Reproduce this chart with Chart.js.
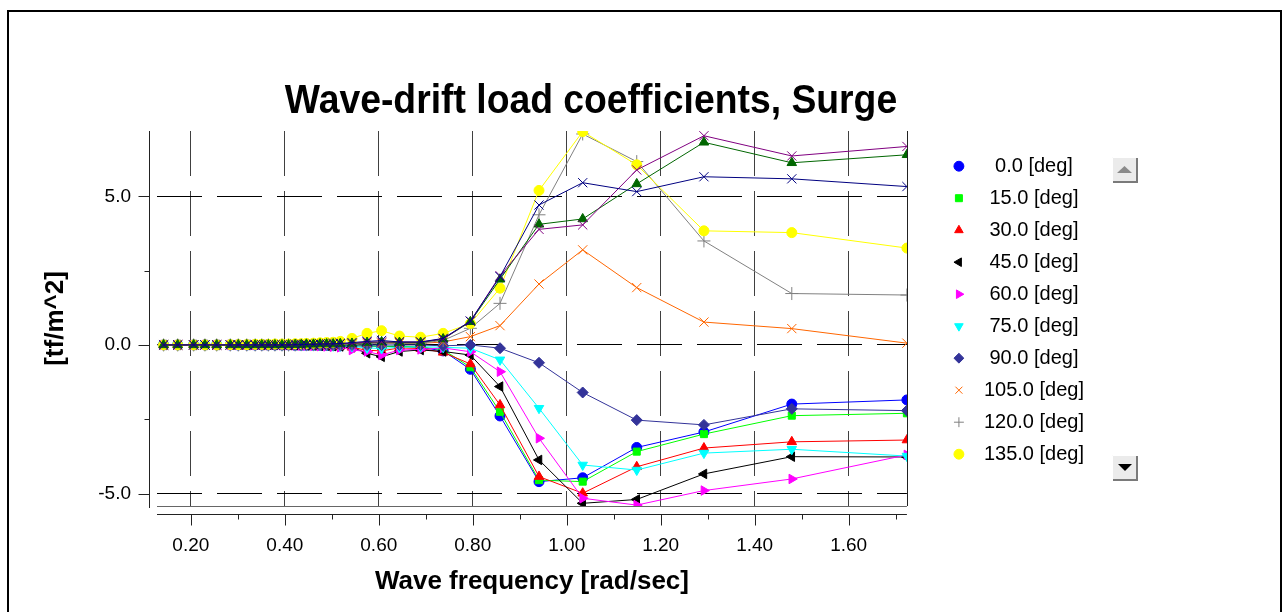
<!DOCTYPE html>
<html>
<head>
<meta charset="utf-8">
<script src="https://cdn.jsdelivr.net/npm/chart.js@4.4.1/dist/chart.umd.min.js"></script>
<style>
  html, body { margin: 0; padding: 0; background: #fff; }
  #frame { position: absolute; left: 7px; top: 10px; width: 1275px; height: 700px; border: 2px solid #000; box-sizing: border-box; }
  #chart { position: absolute; left: 0; top: 0; }
</style>
</head>
<body>
<div id="frame"></div>
<canvas id="chart" width="1286" height="612"></canvas>
<script>
const chartTitle = "Wave-drift load coefficients, Surge";

const freq = [0.142, 0.172, 0.206, 0.230, 0.255, 0.284, 0.301, 0.319, 0.337, 0.351, 0.365, 0.379,
  0.394, 0.408, 0.422, 0.435, 0.446, 0.461, 0.475, 0.489, 0.503, 0.518, 0.543, 0.575,
  0.606, 0.644, 0.689, 0.737, 0.795, 0.858, 0.941, 1.034, 1.149, 1.292, 1.479, 1.724];

const headings = ["0.0", "15.0", "30.0", "45.0", "60.0", "75.0", "90.0", "105.0", "120.0", "135.0", "150.0", "165.0", "180.0"];
const legendShown = 10;

const deg0 = [0, 0, 0, 0, 0, 0, 0, 0, 0, 0, 0, 0, 0, 0, -0.01, -0.01, -0.01, -0.01, -0.02, -0.02, -0.02, -0.03,
  -0.04, -0.03, -0.05, -0.05, -0.08, -0.20, -0.82, -2.39, -4.60, -4.47, -3.45, -2.93, -1.99, -1.85];
const deg15 = [0, 0, 0, 0, 0, 0, 0, 0, 0, 0, 0, 0, 0, 0, -0.01, -0.01, -0.01, -0.01, -0.02, -0.02, -0.02, -0.03,
  -0.03, -0.03, -0.05, -0.04, -0.07, -0.16, -0.75, -2.25, -4.55, -4.60, -3.59, -3.00, -2.38, -2.30];
const deg30 = [0, 0, 0, 0, 0, 0, 0, 0, 0, 0, 0, 0, 0, -0.01, -0.01, -0.01, -0.02, -0.02, -0.02, -0.03, -0.03, -0.04,
  -0.08, -0.18, -0.20, -0.10, -0.12, -0.25, -0.64, -2.02, -4.43, -4.99, -4.10, -3.47, -3.26, -3.20];
const deg45 = [0, 0, 0, 0, 0, 0, 0, 0, 0, 0, 0, 0, 0, -0.01, -0.01, -0.01, -0.02, -0.02, -0.03, -0.03, -0.04, -0.05,
  -0.08, -0.28, -0.40, -0.22, -0.17, -0.22, -0.34, -1.40, -3.87, -5.33, -5.20, -4.34, -3.76, -3.77];
const deg60 = [0, 0, 0, 0, 0, 0, 0, 0, 0, 0, 0, 0, -0.01, -0.01, -0.01, -0.02, -0.02, -0.03, -0.04, -0.05, -0.06, -0.08,
  -0.17, -0.22, -0.34, -0.17, -0.15, -0.10, -0.23, -0.90, -3.14, -5.16, -5.39, -4.90, -4.51, -3.70];
const deg75 = [0, 0, 0, 0, 0, 0, 0, 0, 0, 0, 0, 0, 0, 0, -0.01, -0.01, -0.01, -0.02, -0.02, -0.02, -0.03, -0.03,
  -0.05, -0.10, -0.12, -0.08, -0.06, -0.08, -0.11, -0.50, -2.13, -4.04, -4.21, -3.64, -3.51, -3.74];
const deg90 = [0, 0, 0, 0, 0, 0, 0, 0, 0, 0, 0, 0, 0, 0, 0, 0, 0, 0, 0, 0, 0, 0,
  0, 0, 0, 0, 0, -0.03, 0, -0.11, -0.60, -1.60, -2.53, -2.69, -2.15, -2.21];
const deg105 = [0, 0, 0, 0, 0, 0, 0, 0, 0, 0, 0, 0, 0, 0, 0, 0.01, 0.01, 0.01, 0.02, 0.02, 0.02, 0.02,
  0.03, 0.05, 0.06, 0.05, 0.05, 0.10, 0.28, 0.65, 2.05, 3.20, 1.93, 0.77, 0.55, 0.06];
const deg120 = [0, 0, 0, 0, 0, 0, 0, 0, 0, 0, 0, 0, 0, 0, 0, 0.01, 0.01, 0.01, 0.02, 0.02, 0.02, 0.03,
  0.03, 0.05, 0.06, 0.06, 0.06, 0.15, 0.56, 1.40, 4.38, 7.10, 6.17, 3.50, 1.73, 1.68];
const deg135 = [0, 0, 0, 0, 0, 0.01, 0.01, 0.01, 0.02, 0.02, 0.02, 0.03, 0.03, 0.03, 0.04, 0.04, 0.05, 0.06, 0.07, 0.08, 0.09, 0.12,
  0.22, 0.39, 0.48, 0.30, 0.26, 0.39, 0.72, 1.91, 5.20, 7.18, 6.06, 3.84, 3.78, 3.26];
const deg150 = [0, 0, 0, 0, 0, 0, 0, 0, 0, 0, 0, 0, 0, 0, 0.01, 0.01, 0.02, 0.02, 0.03, 0.03, 0.03, 0.04,
  0.05, 0.08, 0.10, 0.08, 0.08, 0.20, 0.78, 2.21, 4.06, 4.24, 5.42, 6.82, 6.13, 6.40];
const deg165 = [0, 0, 0, 0, 0, 0, 0, 0, 0, 0, 0, 0, 0, 0, 0.01, 0.01, 0.02, 0.02, 0.03, 0.03, 0.04, 0.04,
  0.05, 0.10, 0.10, 0.10, 0.10, 0.20, 0.80, 2.33, 3.89, 4.04, 5.89, 7.04, 6.36, 6.68];
const deg180 = [0, 0, 0, 0, 0, 0, 0, 0, 0, 0, 0, 0, 0, 0, 0.01, 0.01, 0.02, 0.02, 0.03, 0.03, 0.04, 0.05,
  0.08, 0.12, 0.15, 0.10, 0.10, 0.22, 0.80, 2.30, 4.71, 5.46, 5.16, 5.66, 5.59, 5.33];

const seriesValues = [deg0, deg15, deg30, deg45, deg60, deg75, deg90, deg105, deg120, deg135, deg150, deg165, deg180];

const xTicks = [0.2, 0.4, 0.6, 0.8, 1.0, 1.2, 1.4, 1.6];
const xTickLabels = ["0.20", "0.40", "0.60", "0.80", "1.00", "1.20", "1.40", "1.60"];
const xMinorTicks = [0.3, 0.5, 0.7, 0.9, 1.1, 1.3, 1.5, 1.7];
const yTicks = [-5, 0, 5];
const yTickLabels = ["-5.0", "0.0", "5.0"];
const yMinorTicks = [-2.5, 2.5];

const colors = ["#0000ff", "#00ff00", "#ff0000", "#000000", "#ff00ff", "#00ffff", "#333399",
  "#ff6600", "#808080", "#ffff00", "#006600", "#800080", "#000080"];
const markers = ["circle", "rect", "triangle", "triangle", "triangle", "triangle", "rectRot",
  "crossRot", "cross", "circle", "triangle", "crossRot", "crossRot"];
const rotations = [0, 0, 0, -90, 90, 180, 0, 0, 0, 0, 0, 0, 0];
const radii = [5, 5, 5.5, 5.5, 5.5, 5.5, 5.5, 6.5, 6.5, 5, 5.5, 6.5, 6.5];

const fontFamily = "'Liberation Sans', Arial, sans-serif";
Chart.defaults.font.family = fontFamily;
Chart.defaults.color = "#000";

const line = (ctx, x1, y1, x2, y2) => {
  ctx.beginPath();
  ctx.moveTo(x1, y1);
  ctx.lineTo(x2, y2);
  ctx.stroke();
};

const drawButton = (ctx, x, y, up) => {
  ctx.fillStyle = "#ebebeb";
  ctx.fillRect(x, y, 26, 26);
  ctx.strokeStyle = "#ffffff";
  line(ctx, x + 0.5, y + 26, x + 0.5, y + 0.5);
  line(ctx, x + 0.5, y + 0.5, x + 26, y + 0.5);
  ctx.strokeStyle = "#7a7a7a";
  ctx.lineWidth = 2;
  line(ctx, x + 1, y + 25, x + 26, y + 25);
  line(ctx, x + 25, y + 1, x + 25, y + 26);
  ctx.lineWidth = 1;
  ctx.beginPath();
  if (up) {
    ctx.fillStyle = "#8a8a8a";
    ctx.moveTo(x + 5, y + 16);
    ctx.lineTo(x + 20, y + 16);
    ctx.lineTo(x + 12.5, y + 9);
  } else {
    ctx.fillStyle = "#000";
    ctx.moveTo(x + 6, y + 9);
    ctx.lineTo(x + 20, y + 9);
    ctx.lineTo(x + 13, y + 16);
  }
  ctx.closePath();
  ctx.fill();
};

const axesPlugin = {
  id: "axesPlugin",
  afterDraw(chart) {
    const { ctx, chartArea: a, scales: { x, y } } = chart;
    ctx.save();
    ctx.lineWidth = 1;
    ctx.strokeStyle = "#222";
    const ax = Math.round(a.left) - 8 + 0.5;
    const ay = Math.round(a.bottom) + 8 + 0.5;
    line(ctx, ax, a.top, ax, a.bottom + 2);
    yTicks.forEach((v) => {
      const py = Math.round(y.getPixelForValue(v)) + 0.5;
      line(ctx, ax - 11, py, ax, py);
    });
    yMinorTicks.forEach((v) => {
      const py = Math.round(y.getPixelForValue(v)) + 0.5;
      line(ctx, ax - 5, py, ax, py);
    });
    line(ctx, a.left, ay, a.right, ay);
    xTicks.forEach((v) => {
      const px = Math.round(x.getPixelForValue(v)) + 0.5;
      line(ctx, px, ay, px, ay + 11);
    });
    xMinorTicks.forEach((v) => {
      const px = Math.round(x.getPixelForValue(v)) + 0.5;
      line(ctx, px, ay, px, ay + 5);
    });
    ctx.strokeStyle = "#666";
    line(ctx, a.left, Math.round(a.bottom) + 0.5, a.right, Math.round(a.bottom) + 0.5);
    ctx.strokeStyle = "#222";
    line(ctx, Math.round(a.right) + 0.5, a.top, Math.round(a.right) + 0.5, a.bottom);

    // title is a condensed bold face in the original
    ctx.fillStyle = "#000";
    ctx.font = "bold 41px " + fontFamily;
    ctx.textAlign = "center";
    ctx.textBaseline = "alphabetic";
    ctx.translate(591, 113);
    ctx.scale(0.91, 1);
    ctx.fillText(chartTitle, 0, 0);
    ctx.setTransform(1, 0, 0, 1, 0, 0);

    drawButton(ctx, 1112, 157, true);
    drawButton(ctx, 1112, 455, false);
    ctx.restore();
  }
};

const datasets = seriesValues.map((vals, i) => ({
  label: `${headings[i]} [deg]`,
  data: freq.map((f, k) => ({ x: f, y: vals[k] })),
  borderColor: colors[i],
  backgroundColor: colors[i],
  pointBackgroundColor: colors[i],
  pointBorderColor: colors[i],
  borderWidth: 1,
  pointBorderWidth: 1,
  pointStyle: markers[i],
  pointRotation: rotations[i],
  pointRadius: radii[i],
  tension: 0,
  order: -i
}));

new Chart(document.getElementById("chart").getContext("2d"), {
  type: "line",
  data: { datasets },
  plugins: [axesPlugin],
  options: {
    responsive: false,
    animation: false,
    layout: { padding: { top: 131, left: 30, right: 197, bottom: 0 } },
    plugins: {
      tooltip: { enabled: false },
      title: { display: false },
      legend: {
        position: "right",
        align: "start",
        title: { display: true, text: "", padding: { top: 12, bottom: 0 }, font: { size: 1 } },
        labels: {
          usePointStyle: true,
          boxWidth: 20,
          boxHeight: 7,
          padding: 12,
          textAlign: "center",
          color: "#000",
          font: { size: 20 },
          filter: (item) => item.datasetIndex < legendShown,
          sort: (a, b) => a.datasetIndex - b.datasetIndex
        }
      }
    },
    scales: {
      x: {
        type: "linear",
        min: 0.128,
        max: 1.724,
        afterBuildTicks: (s) => { s.ticks = xTicks.map((v) => ({ value: v })); },
        afterFit: (s) => { s.height = 106; },
        ticks: {
          autoSkip: false,
          maxRotation: 0,
          padding: 28,
          color: "#000",
          font: { size: 19 },
          callback: (value, index) => xTickLabels[index]
        },
        grid: { color: "rgba(0,0,0,0.75)", lineWidth: 1, drawTicks: false },
        border: { display: false, dash: [45, 15] },
        title: {
          display: true,
          text: "Wave frequency [rad/sec]",
          color: "#000",
          font: { size: 26, weight: "bold" },
          padding: { top: 0, bottom: 15 }
        }
      },
      y: {
        type: "linear",
        min: -5.42,
        max: 7.2,
        afterBuildTicks: (s) => { s.ticks = yTicks.map((v) => ({ value: v })); },
        afterFit: (s) => { s.width = 127; },
        ticks: {
          padding: 26,
          color: "#000",
          font: { size: 19 },
          callback: (value, index) => yTickLabels[index]
        },
        grid: { color: "#000", lineWidth: 1, drawTicks: false },
        border: { display: false, dash: [45, 15] },
        title: {
          display: true,
          text: "[tf/m^2]",
          color: "#000",
          font: { size: 26, weight: "bold" },
          padding: { top: 10, bottom: 0 }
        }
      },
      gap: {
        type: "linear",
        position: "right",
        display: true,
        grid: { display: false },
        ticks: { display: false },
        border: { display: false },
        afterFit: (s) => { s.width = 30; }
      }
    }
  }
});
</script>
</body>
</html>
